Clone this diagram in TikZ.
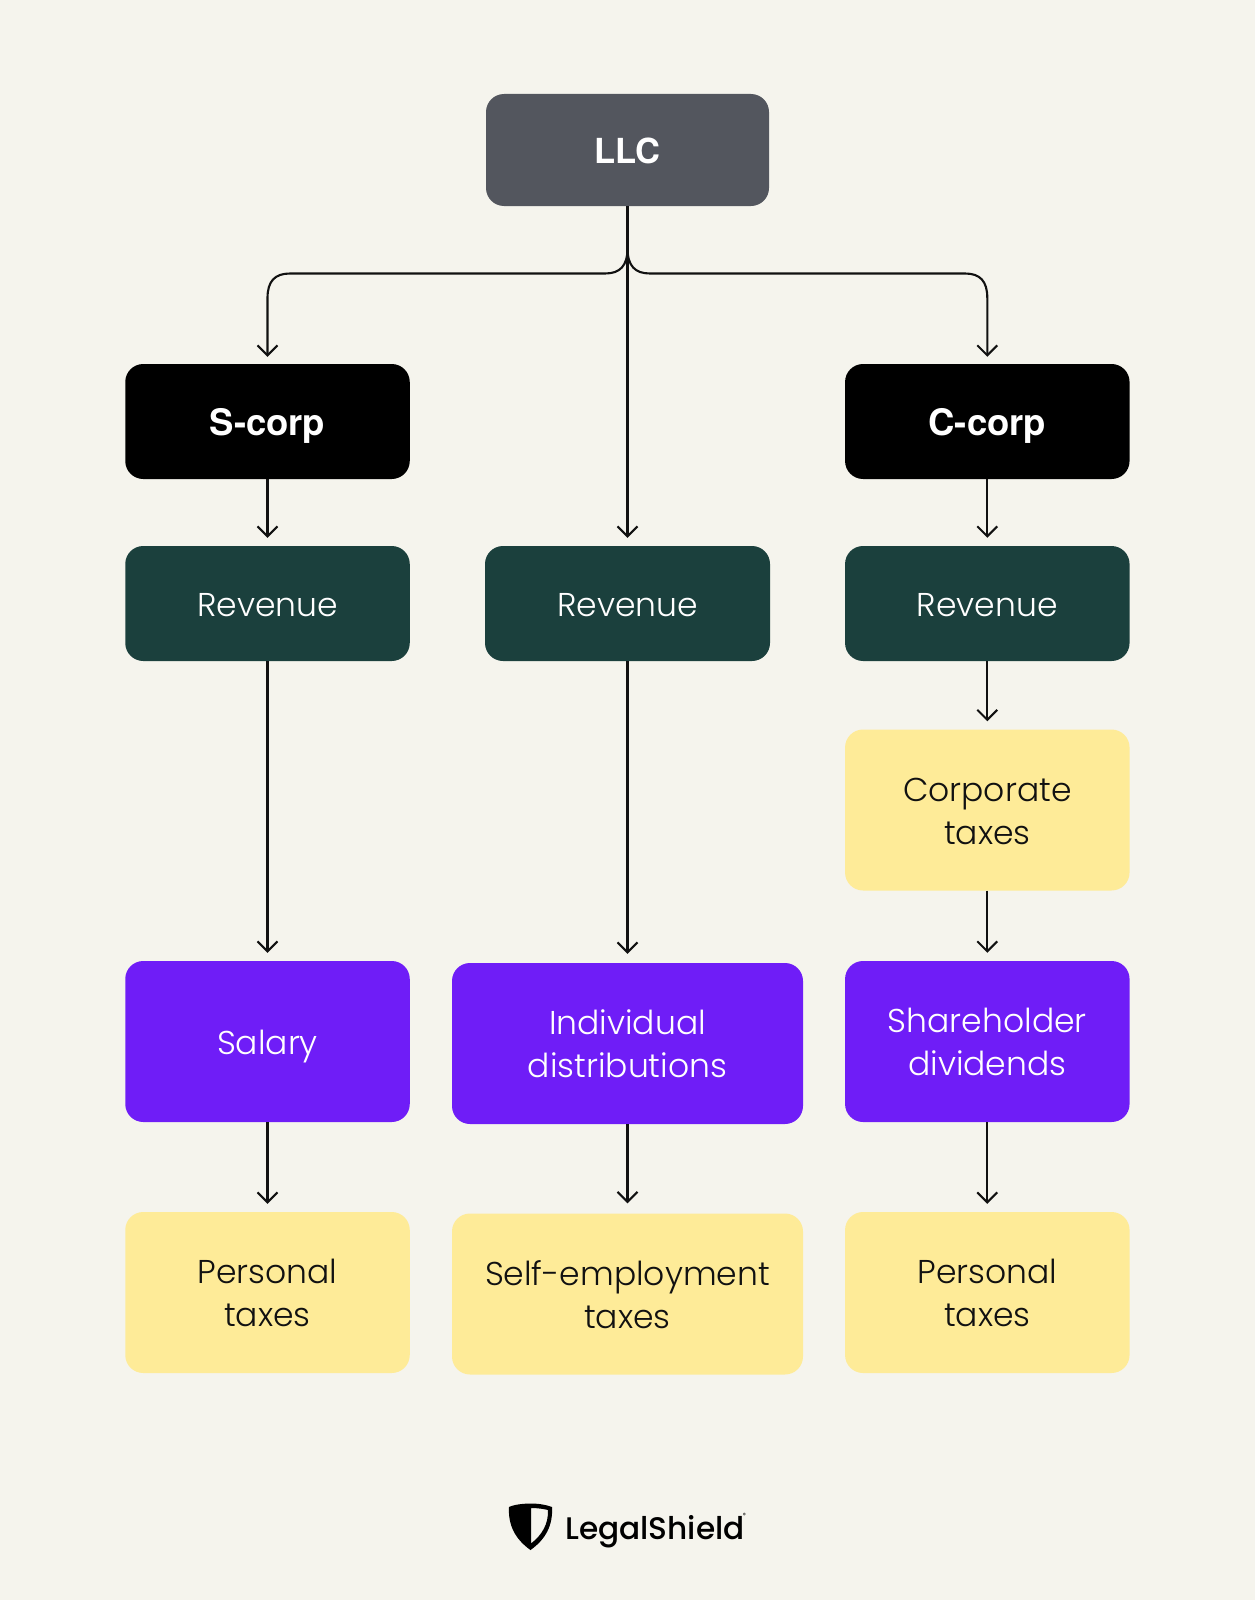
\documentclass[tikz,border=0pt]{standalone}
\usepackage{fontspec}
\setmainfont{Poppins}[UprightFont=* Light,BoldFont=* SemiBold]
\newfontfamily\logofont{Poppins}[UprightFont=* Medium]
\newfontfamily\headfont{TeX Gyre Heros}
\usetikzlibrary{arrows.meta}
\definecolor{bgc}{HTML}{F5F4ED}
\definecolor{graybox}{HTML}{53565E}
\definecolor{greenbox}{HTML}{1B403D}
\definecolor{yellowbox}{HTML}{FEEB98}
\definecolor{purplebox}{HTML}{6F1DF7}
\definecolor{inkc}{HTML}{111111}
\tikzset{
  box/.style={rectangle,rounded corners=18pt,inner sep=0pt,align=center,font=\fontsize{33}{42.8}\selectfont,draw=none},
  one/.style={text height=25pt,text depth=0pt},
  two/.style={text height=68.5pt,text depth=0pt},
  wm/.style={box,minimum width=284.5pt,minimum height=115pt,one},
  wide/.style={box,minimum width=351pt,minimum height=161pt},
  tall/.style={box,minimum width=284.5pt,minimum height=161pt},
  gray/.style={fill=graybox,text=white,text height=26pt,font=\headfont\bfseries\fontsize{34.5}{40}\selectfont},
  blk/.style={fill=black,text=white,text height=28pt,font=\headfont\bfseries\fontsize{36.5}{40}\selectfont},
  grn/.style={fill=greenbox,text=white},
  yel/.style={fill=yellowbox,text=inkc},
  pur/.style={fill=purplebox,text=white},
  arr/.style={draw=inkc,line width=2.1pt,-{Straight Barb[length=10pt,width=20pt,line width=2.1pt]},shorten >=8pt}
}
\begin{document}
\begin{tikzpicture}[x=1pt,y=-1pt]
\path[use as bounding box,fill=bgc] (0,0) rectangle (1255,1600);
% row 0
\node[box,one,gray,minimum width=283pt,minimum height=112pt] (llc) at (627.5,150) {LLC};
% column heads
\node[wm,blk] (scorp) at (267.5,421.5) {S-corp};
\node[wm,blk] (ccorp) at (987.3,421.5) {C-corp};
% revenue
\node[wm,grn] (rev1) at (267.5,603.5) {Revenue};
\node[box,one,grn,minimum width=285pt,minimum height=115pt] (rev2) at (627.5,603.5) {Revenue};
\node[wm,grn] (rev3) at (987.3,603.5) {Revenue};
\node[tall,two,yel] (corp) at (987.3,810) {Corporate\\taxes};
% purple
\node[tall,one,pur] (sal) at (267.5,1041.5) {Salary};
\node[wide,two,pur] (ind) at (627.5,1043.5) {Individual\\distributions};
\node[tall,two,pur] (share) at (987.3,1041.5) {Shareholder\\dividends};
% yellow bottom
\node[tall,two,yel] (pers1) at (267.5,1292.5) {Personal\\taxes};
\node[wide,two,yel] (self) at (627.5,1294) {Self-employment\\taxes};
\node[tall,two,yel] (pers2) at (987.3,1292.5) {Personal\\taxes};
% connectors
\coordinate (j) at (627.5,248);
\coordinate (jl) at (605,273.5);
\coordinate (jr) at (650,273.5);
\coordinate (sl) at (290,273.5);
\coordinate (sr) at (965,273.5);
\coordinate (dl) at (267.5,298);
\coordinate (dr) at (987.3,298);
\draw[arr] (llc.south) -- (rev2.north);
\draw[arr,shorten >=7pt] (llc.south) -- (j) .. controls (627.5,266) and (620,273.5) .. (jl) -- (sl) .. controls (275,273.5) and (267.5,281) .. (dl) -- (scorp.north);
\draw[arr,shorten >=7pt] (llc.south) -- (j) .. controls (627.5,266) and (635,273.5) .. (jr) -- (sr) .. controls (980,273.5) and (987.3,281) .. (dr) -- (ccorp.north);
\draw[arr] (scorp) -- (rev1);
\draw[arr] (ccorp) -- (rev3);
\draw[arr] (rev1) -- (sal);
\draw[arr,shorten >=9pt] (rev2) -- (ind);
\draw[arr] (rev3) -- (corp);
\draw[arr] (corp) -- (share);
\draw[arr] (sal) -- (pers1);
\draw[arr,shorten >=10pt] (ind) -- (self);
\draw[arr] (share) -- (pers2);
% logo
\fill[black,even odd rule] (531,1503.5) .. controls (518,1503.5) and (511,1506) .. (509,1507) .. controls (508,1525) and (515,1539) .. (530.5,1550) .. controls (546,1539) and (553,1525) .. (552,1507) .. controls (549,1506) and (542,1503.5) .. (531,1503.5) -- cycle
 (531,1508) -- (531,1543.5) .. controls (542,1535) and (548.5,1524) .. (548,1510) .. controls (544,1509) and (538,1508) .. (531,1508) -- cycle;
\node[anchor=west,inner sep=0pt,text=black,font=\logofont\fontsize{31.2}{34}\selectfont] (logo) at (565,1532) {LegalShield};
\node[inner sep=0pt,text=black,font=\logofont\fontsize{6}{6}\selectfont] (reg) at (744.5,1515) {®};
\end{tikzpicture}
\end{document}
